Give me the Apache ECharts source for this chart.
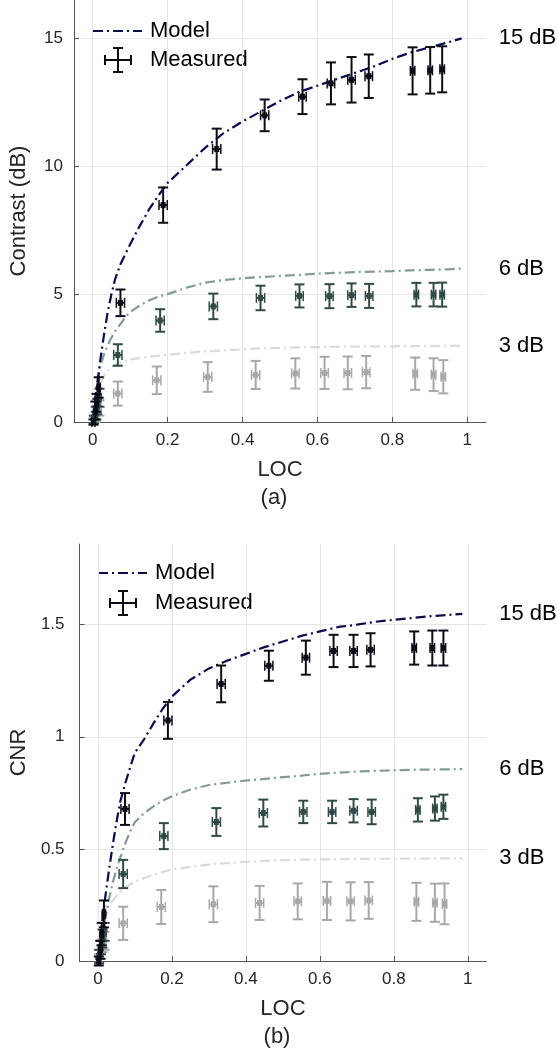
<!DOCTYPE html>
<html><head><meta charset="utf-8">
<script src="https://cdn.jsdelivr.net/npm/echarts@6/dist/echarts.min.js"></script>
<style>html,body{margin:0;padding:0;background:#fff}#c{width:557px;height:1050px}</style>
</head><body><div id="c"></div>
<script>
// ---------- tick values ----------
const xTicks = [0, 0.2, 0.4, 0.6, 0.8, 1];
const contrastTicks = [0, 5, 10, 15];
const cnrTicks = [0, 0.5, 1, 1.5];
const levelNames = ['15 dB', '6 dB', '3 dB'];

// ---------- model curves ----------
const modelX = [0, 0.005, 0.01, 0.02, 0.03, 0.04, 0.05, 0.06, 0.075, 0.09, 0.1, 0.125, 0.15, 0.175, 0.2, 0.25, 0.3, 0.35, 0.4, 0.45, 0.5, 0.55, 0.6, 0.65, 0.7, 0.75, 0.8, 0.85, 0.9, 0.95, 0.985];
const contrastModel15 = [0, 0.65, 1.3, 2.4, 3.4, 4.3, 5.0, 5.6, 6.2, 6.65, 6.95, 7.65, 8.3, 8.85, 9.35, 10.03, 10.72, 11.3, 11.75, 12.15, 12.55, 12.9, 13.15, 13.4, 13.65, 13.9, 14.2, 14.45, 14.65, 14.85, 15.0];
const contrastModel6 = [0, 0.6, 1.2, 2.15, 2.65, 3.0, 3.3, 3.55, 3.85, 4.15, 4.3, 4.55, 4.75, 4.9, 5.0, 5.25, 5.45, 5.55, 5.62, 5.67, 5.71, 5.75, 5.8, 5.83, 5.86, 5.88, 5.9, 5.93, 5.95, 5.97, 6.0];
const contrastModel3 = [0, 0.5, 0.9, 1.5, 1.8, 2.0, 2.15, 2.25, 2.33, 2.41, 2.45, 2.5, 2.55, 2.59, 2.62, 2.7, 2.76, 2.8, 2.84, 2.88, 2.9, 2.92, 2.93, 2.94, 2.95, 2.96, 2.96, 2.97, 2.97, 2.98, 2.98];
const cnrModel15 = [0, 0.08, 0.16, 0.29, 0.41, 0.52, 0.62, 0.71, 0.80, 0.88, 0.93, 0.99, 1.06, 1.125, 1.18, 1.255, 1.305, 1.34, 1.37, 1.4, 1.425, 1.45, 1.47, 1.49, 1.5, 1.513, 1.522, 1.53, 1.538, 1.544, 1.548];
const cnrModel6 = [0, 0.06, 0.11, 0.2, 0.28, 0.35, 0.41, 0.46, 0.53, 0.59, 0.62, 0.66, 0.69, 0.715, 0.735, 0.765, 0.785, 0.795, 0.805, 0.812, 0.82, 0.827, 0.835, 0.84, 0.845, 0.848, 0.851, 0.853, 0.854, 0.855, 0.856];
const cnrModel3 = [0, 0.05, 0.1, 0.2, 0.25, 0.27, 0.29, 0.31, 0.33, 0.345, 0.355, 0.37, 0.385, 0.397, 0.408, 0.42, 0.43, 0.437, 0.442, 0.447, 0.45, 0.452, 0.453, 0.454, 0.455, 0.456, 0.456, 0.457, 0.457, 0.458, 0.458];

// ---------- measured: contrast ----------
const c15X = [0.002, 0.007, 0.010, 0.016, 0.074, 0.188, 0.331, 0.459, 0.560, 0.636, 0.691, 0.737, 0.854, 0.901, 0.933];
const c15Y = [0.00, 0.45, 0.75, 1.35, 4.66, 8.48, 10.67, 11.99, 12.72, 13.24, 13.38, 13.52, 13.73, 13.75, 13.79];
const c15E = [0.10, 0.35, 0.35, 0.40, 0.52, 0.69, 0.80, 0.62, 0.68, 0.82, 0.89, 0.85, 0.92, 0.91, 0.90];
const c6X = [0.003, 0.008, 0.012, 0.018, 0.067, 0.180, 0.322, 0.448, 0.552, 0.632, 0.691, 0.738, 0.864, 0.910, 0.933];
const c6Y = [0.10, 0.35, 0.60, 0.95, 2.62, 3.97, 4.52, 4.85, 4.93, 4.92, 4.96, 4.93, 4.98, 4.98, 4.98];
const c6E = [0.15, 0.25, 0.30, 0.35, 0.42, 0.44, 0.50, 0.48, 0.45, 0.47, 0.46, 0.47, 0.46, 0.46, 0.47];
const c3X = [0.003, 0.008, 0.012, 0.018, 0.067, 0.171, 0.307, 0.435, 0.541, 0.619, 0.681, 0.730, 0.861, 0.910, 0.936];
const c3Y = [0.05, 0.20, 0.35, 0.55, 1.11, 1.63, 1.76, 1.84, 1.90, 1.92, 1.92, 1.95, 1.89, 1.85, 1.77];
const c3E = [0.15, 0.20, 0.25, 0.30, 0.47, 0.54, 0.58, 0.55, 0.59, 0.63, 0.64, 0.63, 0.63, 0.64, 0.65];

// ---------- measured: CNR ----------
const n15X = [0.002, 0.006, 0.010, 0.016, 0.073, 0.189, 0.333, 0.462, 0.562, 0.637, 0.691, 0.737, 0.855, 0.904, 0.934];
const n15Y = [0.00, 0.05, 0.12, 0.21, 0.678, 1.073, 1.236, 1.317, 1.353, 1.383, 1.383, 1.388, 1.396, 1.396, 1.396];
const n15E = [0.02, 0.04, 0.05, 0.06, 0.071, 0.082, 0.082, 0.067, 0.076, 0.072, 0.072, 0.074, 0.074, 0.078, 0.078];
const n6X = [0.003, 0.008, 0.012, 0.018, 0.068, 0.178, 0.320, 0.447, 0.555, 0.633, 0.691, 0.740, 0.865, 0.911, 0.934];
const n6Y = [0.02, 0.06, 0.10, 0.13, 0.388, 0.557, 0.620, 0.660, 0.665, 0.665, 0.670, 0.665, 0.674, 0.680, 0.688];
const n6E = [0.03, 0.03, 0.04, 0.04, 0.063, 0.058, 0.062, 0.060, 0.050, 0.050, 0.052, 0.055, 0.052, 0.054, 0.054];
const n3X = [0.003, 0.008, 0.012, 0.018, 0.068, 0.171, 0.312, 0.437, 0.540, 0.619, 0.683, 0.732, 0.861, 0.911, 0.937];
const n3Y = [0.01, 0.04, 0.07, 0.09, 0.168, 0.241, 0.253, 0.259, 0.266, 0.268, 0.266, 0.270, 0.264, 0.260, 0.255];
const n3E = [0.02, 0.03, 0.03, 0.04, 0.074, 0.076, 0.080, 0.076, 0.080, 0.085, 0.085, 0.082, 0.085, 0.085, 0.091];

// horizontal (LOC) error half-widths
const xErr = [0.004, 0.004, 0.004, 0.004, 0.011, 0.011, 0.011, 0.011, 0.010, 0.010, 0.010, 0.010, 0.006, 0.006, 0.006];

const FONT = 'Liberation Sans';
const modelColors = ['#0b0b4f', '#819c97', '#dadada'];
const markColors = ['#0c0c16', '#2f4a47', '#a8a8a8'];

function pairs(xs, ys) { return xs.map((x, i) => [x, ys[i]]); }
function errData(xs, ys, es) { return xs.map((x, i) => [x, ys[i], xErr[i], es[i]]); }

function errRender(color) {
  return function (params, api) {
    const x = api.value(0), y = api.value(1), xe = api.value(2), ye = api.value(3);
    const c = api.coord([x, y]);
    const top = api.coord([x, y + ye]), bot = api.coord([x, y - ye]);
    const l = api.coord([x - xe, y]), r = api.coord([x + xe, y]);
    const cap = 5, st = { stroke: color, lineWidth: 2 };
    return {
      type: 'group', children: [
        { type: 'line', shape: { x1: c[0], y1: top[1], x2: c[0], y2: bot[1] }, style: st },
        { type: 'line', shape: { x1: c[0] - cap, y1: top[1], x2: c[0] + cap, y2: top[1] }, style: st },
        { type: 'line', shape: { x1: c[0] - cap, y1: bot[1], x2: c[0] + cap, y2: bot[1] }, style: st },
        { type: 'line', shape: { x1: l[0], y1: c[1], x2: r[0], y2: c[1] }, style: st },
        { type: 'line', shape: { x1: l[0], y1: c[1] - cap, x2: l[0], y2: c[1] + cap }, style: { stroke: color, lineWidth: 1.5 } },
        { type: 'line', shape: { x1: r[0], y1: c[1] - cap, x2: r[0], y2: c[1] + cap }, style: { stroke: color, lineWidth: 1.5 } },
        { type: 'rect', shape: { x: c[0] - 2.5, y: c[1] - 3, width: 5, height: 6 }, style: { fill: color } }
      ]
    };
  };
}

function modelSeries(idx, data, k) {
  return {
    type: 'line', xAxisIndex: idx, yAxisIndex: idx, data: data, showSymbol: false, symbol: 'none',
    smooth: false, silent: true, z: 2,
    lineStyle: { color: modelColors[k], width: 2.2, type: [10, 4, 2, 4] },
    endLabel: { show: true, formatter: levelNames[k], distance: 37, fontSize: 22, color: '#000', fontFamily: FONT }
  };
}
function errSeries(idx, data, k) {
  return { type: 'custom', xAxisIndex: idx, yAxisIndex: idx, data: data, renderItem: errRender(markColors[k]), clip: false, silent: true, z: 3, encode: { x: 0, y: 1 } };
}

const axisCol = '#555555', labelCol = '#262626';
function xAxisCfg(idx) {
  return {
    type: 'value', gridIndex: idx, min: -0.05, max: 1.05,
    name: 'LOC', nameLocation: 'middle', nameGap: 37,
    nameTextStyle: { fontSize: 22, color: labelCol, fontFamily: FONT },
    axisLine: { show: true, onZero: false, lineStyle: { color: axisCol, width: 1 } },
    axisTick: { show: true, inside: true, length: 5, customValues: xTicks, lineStyle: { color: axisCol } },
    axisLabel: { customValues: xTicks, fontSize: 17, color: labelCol, margin: 10, fontFamily: FONT, formatter: v => String(v) },
    splitLine: { show: true, lineStyle: { color: '#e6e6e6', width: 1 } }
  };
}
function yAxisCfg(idx, name, max, ticks, gap, margin) {
  return {
    type: 'value', gridIndex: idx, min: 0, max: max,
    name: name, nameLocation: 'middle', nameGap: gap,
    nameTextStyle: { fontSize: 22, color: labelCol, fontFamily: FONT },
    axisLine: { show: true, onZero: false, lineStyle: { color: axisCol, width: 1 } },
    axisTick: { show: true, inside: true, length: 5, customValues: ticks, lineStyle: { color: axisCol } },
    axisLabel: { customValues: ticks, fontSize: 17, color: labelCol, margin: margin, fontFamily: FONT, formatter: v => String(v) },
    splitLine: { show: true, lineStyle: { color: '#e6e6e6', width: 1 } }
  };
}

function legendGraphic(x0, yModel, yMeas) {
  const cx = x0 + 25, cy = yMeas;
  const st = { stroke: '#0c0c16', lineWidth: 2 };
  return [
    { type: 'line', shape: { x1: x0, y1: yModel, x2: x0 + 49, y2: yModel }, style: { stroke: modelColors[0], lineWidth: 2.2, lineDash: [10, 4, 2, 4] } },
    { type: 'text', x: x0 + 57, y: yModel, style: { text: 'Model', font: '22px "' + FONT + '"', fill: '#000', verticalAlign: 'middle', align: 'left' } },
    { type: 'line', shape: { x1: cx - 13, y1: cy, x2: cx + 13, y2: cy }, style: st },
    { type: 'line', shape: { x1: cx - 13, y1: cy - 5, x2: cx - 13, y2: cy + 5 }, style: st },
    { type: 'line', shape: { x1: cx + 13, y1: cy - 5, x2: cx + 13, y2: cy + 5 }, style: st },
    { type: 'line', shape: { x1: cx, y1: cy - 12, x2: cx, y2: cy + 12 }, style: st },
    { type: 'line', shape: { x1: cx - 5, y1: cy - 12, x2: cx + 5, y2: cy - 12 }, style: st },
    { type: 'line', shape: { x1: cx - 5, y1: cy + 12, x2: cx + 5, y2: cy + 12 }, style: st },
    { type: 'text', x: x0 + 57, y: yMeas, style: { text: 'Measured', font: '22px "' + FONT + '"', fill: '#000', verticalAlign: 'middle', align: 'left' } }
  ];
}

const chart = echarts.init(document.getElementById('c'), null, { renderer: 'canvas' });
const option = {
  backgroundColor: '#fff',
  animation: false,
  textStyle: { fontFamily: FONT },
  grid: [
    { left: 62.5, top: 0, width: 423.5, height: 422 },
    { left: 68.3, top: 544, width: 418, height: 417 }
  ],
  xAxis: [xAxisCfg(0), xAxisCfg(1)],
  yAxis: [
    yAxisCfg(0, 'Contrast (dB)', 16.5, contrastTicks, 44, 11),
    yAxisCfg(1, 'CNR', 1.86, cnrTicks, 48, 15)
  ],
  graphic: [
    ...legendGraphic(93, 31, 60),
    ...legendGraphic(98, 573, 603),
    { type: 'text', x: 274, y: 498, style: { text: '(a)', font: '22px "' + FONT + '"', fill: labelCol, align: 'center', verticalAlign: 'middle' } },
    { type: 'text', x: 277, y: 1037, style: { text: '(b)', font: '22px "' + FONT + '"', fill: labelCol, align: 'center', verticalAlign: 'middle' } }
  ],
  series: [
    modelSeries(0, pairs(modelX, contrastModel3), 2),
    modelSeries(0, pairs(modelX, contrastModel6), 1),
    modelSeries(0, pairs(modelX, contrastModel15), 0),
    errSeries(0, errData(c3X, c3Y, c3E), 2),
    errSeries(0, errData(c6X, c6Y, c6E), 1),
    errSeries(0, errData(c15X, c15Y, c15E), 0),
    modelSeries(1, pairs(modelX, cnrModel3), 2),
    modelSeries(1, pairs(modelX, cnrModel6), 1),
    modelSeries(1, pairs(modelX, cnrModel15), 0),
    errSeries(1, errData(n3X, n3Y, n3E), 2),
    errSeries(1, errData(n6X, n6Y, n6E), 1),
    errSeries(1, errData(n15X, n15Y, n15E), 0)
  ]
};
chart.setOption(option);
</script>
</body></html>
